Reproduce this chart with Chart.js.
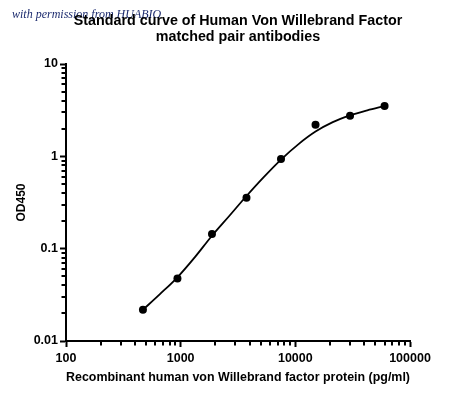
<!DOCTYPE html>
<html><head><meta charset="utf-8">
<style>html,body{margin:0;padding:0;background:#fff;} #wrap{width:450px;height:398px;}</style>
<script src="https://cdn.jsdelivr.net/npm/chart.js@4/dist/chart.umd.min.js"></script>
</head><body><div id="wrap"><canvas id="c" width="450" height="398"></canvas></div>
<script>
const titleLines = ['Standard curve of Human Von Willebrand Factor', 'matched pair antibodies'];
const watermark = 'with permission from HUABIO';
const xTitle = 'Recombinant human von Willebrand factor protein (pg/ml)';
const yTitle = 'OD450';
const concentrations = [468.75, 937.5, 1875, 3750, 7500, 15000, 30000, 60000];
const od450 = [0.0218, 0.0475, 0.144, 0.356, 0.935, 2.20, 2.75, 3.51];
const curveX = [468.75, 662.9, 937.5, 1325.8, 1875, 2651.6, 3750, 5303.3, 7500, 10606.6, 15000, 21213, 30000, 42426, 60000];
const curveY = [0.0218, 0.0324, 0.0490, 0.0804, 0.138, 0.226, 0.372, 0.596, 0.923, 1.349, 1.853, 2.344, 2.773, 3.148, 3.508];
const xTickValues = [100, 1000, 10000, 100000];
const xTickLabels = ['100', '1000', '10000', '100000'];
const yTickValues = [0.01, 0.1, 1, 10];
const yTickLabels = ['0.01', '0.1', '1', '10'];
const minorMultipliers = [2, 3, 4, 5, 6, 7, 8, 9];

const FONT = "'Liberation Sans', Arial, sans-serif";

function minorTicks(majors) {
  const out = [];
  for (let i = 0; i < majors.length - 1; i++) {
    minorMultipliers.forEach(m => out.push(majors[i] * m));
  }
  return out;
}

const decorPlugin = {
  id: 'decor',
  afterDraw(chart) {
    const ctx = chart.ctx;
    const ca = chart.chartArea;
    const xs = chart.scales.x, ys = chart.scales.y;
    ctx.save();
    ctx.strokeStyle = '#000';
    ctx.lineWidth = 2;
    minorTicks(xTickValues).forEach(v => {
      const px = Math.round(xs.getPixelForValue(v));
      ctx.beginPath();
      ctx.moveTo(px, ca.bottom);
      ctx.lineTo(px, ca.bottom + 4.5);
      ctx.stroke();
    });
    minorTicks(yTickValues).forEach(v => {
      const py = Math.round(ys.getPixelForValue(v));
      ctx.beginPath();
      ctx.moveTo(ca.left, py);
      ctx.lineTo(ca.left - 4.5, py);
      ctx.stroke();
    });
    ctx.fillStyle = '#1c2b6e';
    ctx.font = "italic 12px 'Liberation Serif', 'DejaVu Serif', serif";
    ctx.textAlign = 'left';
    ctx.textBaseline = 'alphabetic';
    ctx.fillText(watermark, 12, 18);
    ctx.fillStyle = '#000';
    ctx.font = 'bold 14.3px ' + FONT;
    ctx.textAlign = 'center';
    ctx.textBaseline = 'middle';
    const cx = (ca.left + ca.right) / 2;
    ctx.fillText(titleLines[0], cx, 21);
    ctx.fillText(titleLines[1], cx, 37.5);
    ctx.restore();
  }
};

new Chart(document.getElementById('c'), {
  type: 'scatter',
  data: {
    datasets: [
      {
        label: 'fit',
        data: curveX.map((x, i) => ({x: x, y: curveY[i]})),
        showLine: true,
        borderColor: '#000',
        borderWidth: 1.8,
        pointRadius: 0,
        cubicInterpolationMode: 'monotone',
        fill: false
      },
      {
        label: 'points',
        data: concentrations.map((x, i) => ({x: x, y: od450[i]})),
        showLine: false,
        backgroundColor: '#000',
        borderColor: '#000',
        borderWidth: 0,
        pointRadius: 4
      }
    ]
  },
  options: {
    responsive: false,
    devicePixelRatio: 1,
    animation: false,
    layout: {padding: {top: 64, right: 40, bottom: 0, left: 0}},
    plugins: {legend: {display: false}, title: {display: false}, tooltip: {enabled: false}},
    scales: {
      x: {
        type: 'logarithmic',
        position: 'bottom',
        min: 100,
        max: 100000,
        afterBuildTicks: s => { s.ticks = xTickValues.map(v => ({value: v, major: true})); },
        afterFit: s => { s.height = 57; s.paddingLeft = 0; s.paddingRight = 0; },
        ticks: {
          autoSkip: false, maxRotation: 0, color: '#000', padding: 4,
          font: {family: FONT, weight: 'bold', size: 12.5},
          callback: v => xTickLabels[xTickValues.indexOf(v)]
        },
        grid: {display: true, drawOnChartArea: false, drawTicks: true, tickLength: 6, tickWidth: 2, tickColor: '#000'},
        border: {display: true, color: '#000', width: 2},
        title: {display: true, text: xTitle, color: '#000', font: {family: FONT, weight: 'bold', size: 12.5}, padding: {top: 0, bottom: 12.5}}
      },
      y: {
        type: 'logarithmic',
        position: 'left',
        min: 0.01,
        max: 10,
        afterBuildTicks: s => { s.ticks = yTickValues.map(v => ({value: v, major: true})); },
        afterFit: s => { s.width = 66; s.paddingTop = 0; s.paddingBottom = 0; },
        ticks: {
          autoSkip: false, color: '#000', padding: 2,
          font: {family: FONT, weight: 'bold', size: 12.5},
          callback: v => yTickLabels[yTickValues.indexOf(v)]
        },
        grid: {display: true, drawOnChartArea: false, drawTicks: true, tickLength: 6, tickWidth: 2, tickColor: '#000'},
        border: {display: true, color: '#000', width: 2},
        title: {display: true, text: yTitle, color: '#000', font: {family: FONT, weight: 'bold', size: 12}, padding: {top: 14, bottom: 0}}
      }
    }
  },
  plugins: [decorPlugin]
});
</script>
</body></html>
